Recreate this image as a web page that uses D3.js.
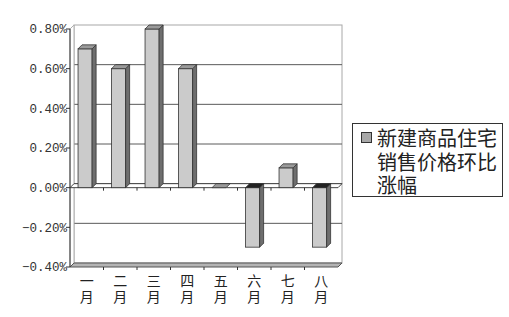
<!DOCTYPE html>
<html>
<head>
<meta charset="utf-8">
<title>新建商品住宅销售价格环比涨幅</title>
<script src="https://cdnjs.cloudflare.com/ajax/libs/d3/7.8.5/d3.min.js"></script>
<style>
 body { margin: 0; background: #fff; }
 text { font-family: "Noto Sans CJK SC", sans-serif; fill: #222; }
 .ytick { font-family: "Liberation Mono", monospace; font-size: 12.5px; fill: #333; }
</style>
</head>
<body>
<svg id="chart" width="509" height="317"></svg>
<script>
// data
var months = ["一月", "二月", "三月", "四月", "五月", "六月", "七月", "八月"];
var values = [0.70, 0.60, 0.80, 0.60, 0.00, -0.30, 0.10, -0.30];
var yTicks = [-0.4, -0.2, 0, 0.2, 0.4, 0.6, 0.8];
var legendLines = ["新建商品住宅", "销售价格环比", "涨幅"];

var svg = d3.select("#chart");

// front plane scales, depth gives the 3d offset
var x = d3.scaleBand().domain(months).range([70, 338]);
var y = d3.scaleLinear().domain([-0.4, 0.8]).range([267, 29]);
var DX = 4, DY = -4;
var x0 = x.range()[0], x1 = x.range()[1];
var yTop = y(0.8), yBot = y(-0.4), yZero = y(0);

function poly(pts) { return "M" + pts.map(function(p) { return p.join(","); }).join("L") + "Z"; }

// back wall
svg.append("rect")
  .attr("x", x0 + DX).attr("y", yTop + DY)
  .attr("width", x1 - x0).attr("height", yBot - yTop)
  .attr("fill", "#fff").attr("stroke", "#a8a8a8");

// gridlines on the back wall
svg.selectAll(".grid").data(yTicks.filter(function(d) { return d > -0.4 && d < 0.8; }))
  .enter().append("line")
  .attr("x1", x0 + DX).attr("x2", x1 + DX)
  .attr("y1", function(d) { return y(d) + DY; })
  .attr("y2", function(d) { return y(d) + DY; })
  .attr("stroke", "#5a5a5a");

// left side wall
svg.append("path")
  .attr("d", poly([[x0, yTop], [x0 + DX, yTop + DY], [x0 + DX, yBot + DY], [x0, yBot]]))
  .attr("fill", "#fff").attr("stroke", "#b0b0b0");

// floor
svg.append("path")
  .attr("d", poly([[x0, yBot], [x1, yBot], [x1 + DX, yBot + DY], [x0 + DX, yBot + DY]]))
  .attr("fill", "#b4b4b4").attr("stroke", "#555");

// zero plane
svg.append("path")
  .attr("d", poly([[x0, yZero], [x1, yZero], [x1 + DX, yZero + DY], [x0 + DX, yZero + DY]]))
  .attr("fill", "#fff").attr("stroke", "#444");

// category ticks on floor and zero plane
var bounds = months.slice(1).map(function(m) { return x(m); });
[yBot, yZero].forEach(function(yy) {
  svg.selectAll(null).data(bounds).enter().append("line")
    .attr("x1", function(d) { return d; }).attr("x2", function(d) { return d; })
    .attr("y1", yy).attr("y2", yy + 3)
    .attr("stroke", "#333");
});

// bars
var bw = x.bandwidth();
var bars = svg.selectAll(".bar").data(months.map(function(m, i) { return { m: m, v: values[i] }; }))
  .enter().append("g");

bars.each(function(d) {
  var g = d3.select(this);
  var a = x(d.m) + bw * 0.24, b = a + bw * 0.42;
  var yv = y(d.v);
  var hi = Math.min(yv, yZero), lo = Math.max(yv, yZero);
  if (d.v !== 0) {
    g.append("rect").attr("x", a).attr("y", hi).attr("width", b - a).attr("height", lo - hi)
      .attr("fill", "#cbcbcb").attr("stroke", "#333").attr("stroke-width", 0.8);
    g.append("path")
      .attr("d", poly([[b, hi], [b + DX, hi + DY], [b + DX, lo + DY], [b, lo]]))
      .attr("fill", "#6e6e6e").attr("stroke", "#333").attr("stroke-width", 0.8);
  }
  g.append("path")
    .attr("d", poly([[a, hi], [b, hi], [b + DX, hi + DY], [a + DX, hi + DY]]))
    .attr("fill", d.v < 0 ? "#222" : "#9a9a9a").attr("stroke", "#333").attr("stroke-width", 0.8);
});

// front value axis
svg.append("line").attr("x1", x0).attr("x2", x0).attr("y1", yTop).attr("y2", yBot)
  .attr("stroke", "#333");
svg.selectAll(".yt").data(yTicks).enter().append("line")
  .attr("x1", x0 - 4).attr("x2", x0)
  .attr("y1", function(d) { return y(d); }).attr("y2", function(d) { return y(d); })
  .attr("stroke", "#333");
svg.selectAll(".ylab").data(yTicks).enter().append("text")
  .attr("class", "ytick")
  .attr("x", x0 - 3).attr("y", function(d) { return y(d); })
  .attr("text-anchor", "end").attr("dy", "0.35em")
  .text(function(d) { return d3.format(".2f")(d) + "%"; });

// category labels, one character per line
var cat = svg.selectAll(".xlab").data(months).enter().append("text")
  .attr("text-anchor", "middle").style("font-size", "14px")
  .attr("x", function(d) { return x(d) + bw / 2; });
cat.append("tspan").attr("x", function(d) { return x(d) + bw / 2; }).attr("y", 286)
  .text(function(d) { return d[0]; });
cat.append("tspan").attr("x", function(d) { return x(d) + bw / 2; }).attr("y", 302)
  .text(function(d) { return d[1]; });

// legend
svg.append("rect").attr("x", 352.5).attr("y", 123.5).attr("width", 150).attr("height", 73)
  .attr("fill", "#fff").attr("stroke", "#333");
svg.append("rect").attr("x", 361.5).attr("y", 132.5).attr("width", 10).attr("height", 10)
  .attr("fill", "#a8a8a8").attr("stroke", "#333");
svg.selectAll(".leg").data(legendLines).enter().append("text")
  .attr("x", 377).attr("y", function(d, i) { return 146 + i * 23.5; })
  .style("font-size", "20px").attr("fill", "#333")
  .text(function(d) { return d; });
</script>
</body>
</html>
